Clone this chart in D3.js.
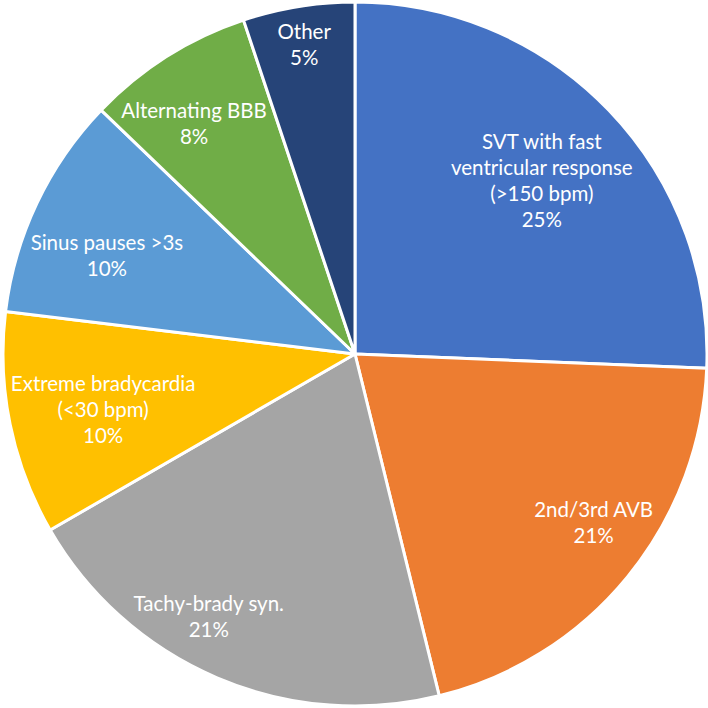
<!DOCTYPE html>
<html>
<head>
<meta charset="utf-8">
<script src="https://cdn.jsdelivr.net/npm/d3@7"></script>
<style>
  html, body { margin: 0; padding: 0; background: #ffffff; }
  svg { display: block; }
</style>
</head>
<body>
<svg id="chart" width="708" height="708"></svg>
<script>
// ---- data ----
const categories = [
  "SVT with fast ventricular response (>150 bpm)",
  "2nd/3rd AVB",
  "Tachy-brady syn.",
  "Extreme bradycardia (<30 bpm)",
  "Sinus pauses >3s",
  "Alternating BBB",
  "Other"
];
const counts = [10, 8, 8, 4, 4, 3, 2];
const percentLabels = ["25%", "21%", "21%", "10%", "10%", "8%", "5%"];
const labelLines = [
  ["SVT with fast", "ventricular response", "(>150 bpm)"],
  ["2nd/3rd AVB"],
  ["Tachy-brady syn."],
  ["Extreme bradycardia", "(<30 bpm)"],
  ["Sinus pauses >3s"],
  ["Alternating BBB"],
  ["Other"]
];
const colors = ["#4472C4", "#ED7D31", "#A5A5A5", "#FFC000", "#5B9BD5", "#70AD47", "#264478"];

// ---- label placement style (radius fraction, angle nudge in degrees) ----
const labelRadius = [0.724, 0.83, 0.855, 0.733, 0.758, 0.797, 0.891];
const labelNudge = [1, -4, 6, -1, -3.8, -2.7, -0.1];

const W = 708, H = 708;
const cx = 355, cy = 354, R = 352;

const svg = d3.select("#chart");
const g = svg.append("g").attr("transform", `translate(${cx},${cy})`);

const data = categories.map((c, i) => ({ name: c, value: counts[i], i }));
const pie = d3.pie().value(d => d.value).sort(null);
const arcs = pie(data);
const arc = d3.arc().innerRadius(0).outerRadius(R);

g.selectAll("path.slice")
  .data(arcs)
  .join("path")
  .attr("class", "slice")
  .attr("d", arc)
  .attr("fill", d => colors[d.data.i])
  .attr("stroke", "#ffffff")
  .attr("stroke-width", 3)
  .attr("stroke-linejoin", "round");

const fontSize = 20.5, lineH = 26;
g.selectAll("text.lbl")
  .data(arcs)
  .join("text")
  .attr("class", "lbl")
  .attr("text-anchor", "middle")
  .attr("fill", "#ffffff")
  .style("font-family", "Lato, 'Open Sans', sans-serif")
  .style("font-size", fontSize + "px")
  .each(function(d) {
    const i = d.data.i;
    const lines = labelLines[i].concat([percentLabels[i]]);
    const mid = (d.startAngle + d.endAngle) / 2 + labelNudge[i] * Math.PI / 180;
    const r = R * labelRadius[i];
    const x = r * Math.sin(mid);
    const y = -r * Math.cos(mid);
    const y0 = y - (lines.length - 1) * lineH / 2;
    const t = d3.select(this);
    lines.forEach((ln, k) => {
      t.append("tspan")
        .attr("x", x)
        .attr("y", y0 + k * lineH)
        .attr("dy", "0.35em")
        .text(ln);
    });
  });
</script>
</body>
</html>
